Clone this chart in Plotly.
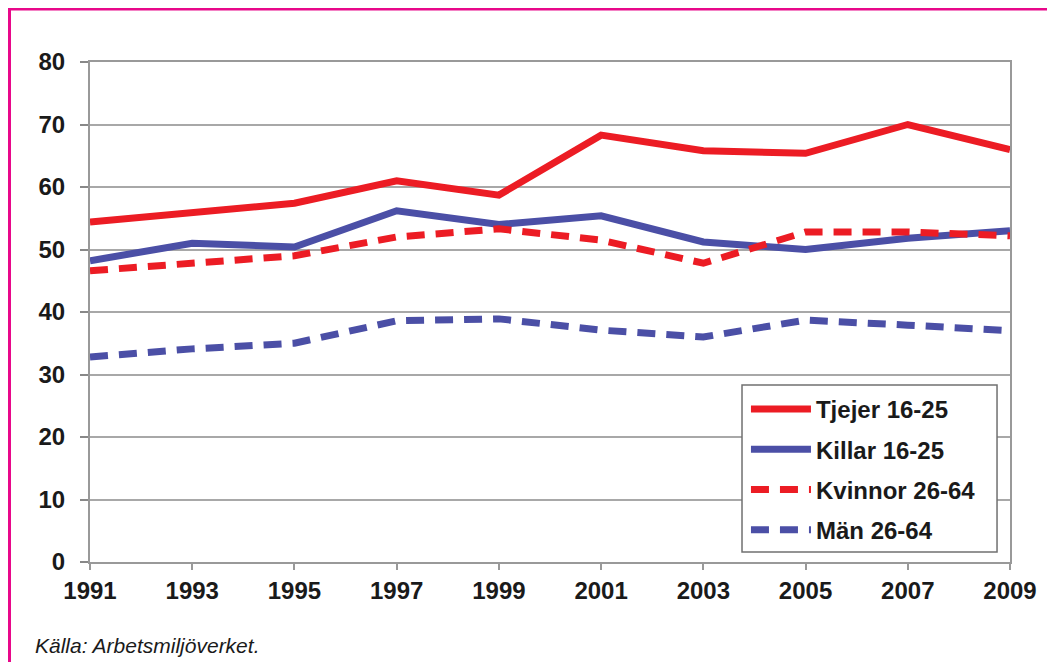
import plotly.graph_objects as go

years = [1991, 1993, 1995, 1997, 1999, 2001, 2003, 2005, 2007, 2009]
tjejer = [54.4, 55.8, 57.4, 61.0, 58.7, 68.3, 65.8, 65.4, 70.0, 66.0]
killar = [48.2, 51.0, 50.4, 56.2, 54.0, 55.4, 51.2, 50.0, 51.8, 53.0]
kvinnor = [46.6, 47.7, 49.0, 52.0, 53.3, 51.5, 47.8, 52.8, 52.8, 52.2]
man = [32.8, 34.1, 35.0, 38.6, 38.9, 37.1, 36.0, 38.7, 37.9, 37.0]

names = ["Tjejer 16-25", "Killar 16-25", "Kvinnor 26-64", "Män 26-64"]
series = [tjejer, killar, kvinnor, man]
colors = ["#ec1c24", "#4b4fa6", "#ec1c24", "#4b4fa6"]
dashes = ["solid", "solid", "18px,11px", "18px,11px"]

FONT = "Liberation Sans, Arial"

fig = go.Figure()
for n, s, c, d in zip(names, series, colors, dashes):
    fig.add_trace(go.Scatter(x=years, y=s, name=n, mode="lines", legendgroup=n,
                             line=dict(color=c, width=7, dash=d)))

fig.update_layout(
    width=1055, height=662,
    margin=dict(l=82, r=53, t=54, b=108),
    paper_bgcolor="white", plot_bgcolor="white",
    font=dict(family=FONT, color="#1a1a1a"),
    showlegend=True,
    legend=dict(x=0.7130, y=0.350, xanchor="left", yanchor="top",
                bgcolor="rgba(0,0,0,0)", borderwidth=0,
                font=dict(size=24, family=FONT, color="#1a1a1a", weight="bold"),
                itemwidth=60, tracegroupgap=6),
    xaxis=dict(range=[1991, 2009], tickvals=years, ticktext=[str(y) for y in years],
               showgrid=False, zeroline=False, showline=True, linecolor="#999999", linewidth=2,
               ticks="outside", ticklen=6, tickcolor="#999999", tickwidth=1.5,
               tickfont=dict(size=24, family=FONT, weight="bold", color="#1a1a1a"),
               mirror=True),
    yaxis=dict(range=[0, 80], dtick=10, showgrid=True, gridcolor="#a8a8a8", gridwidth=1.5,
               zeroline=False, showline=True, linecolor="#999999", linewidth=2,
               ticks="outside", ticklen=8, tickcolor="#888888", tickwidth=1.5,
               ticklabelstandoff=10,
               tickfont=dict(size=24, family=FONT, weight="bold", color="#1a1a1a"),
               mirror=True),
)

# legend frame
fig.add_shape(type="rect", xref="paper", yref="paper",
              x0=0.7087, x1=0.9859, y0=0.02, y1=0.354,
              line=dict(color="#707070", width=1.5), fillcolor="white", layer="above")

# page frame
fig.add_shape(type="rect", xref="paper", yref="paper",
              x0=-0.0875, x1=1.2, y0=-0.4, y1=1.106,
              line=dict(color="#e8088a", width=3), fillcolor="rgba(0,0,0,0)", layer="above")

fig.add_annotation(text="<i>Källa: Arbetsmiljöverket.</i>", xref="paper", yref="paper",
                   x=-0.062, y=-0.166, xanchor="left", yanchor="middle", showarrow=False,
                   font=dict(size=21, family=FONT, color="#1a1a1a"))

fig.write_html("out.html")
